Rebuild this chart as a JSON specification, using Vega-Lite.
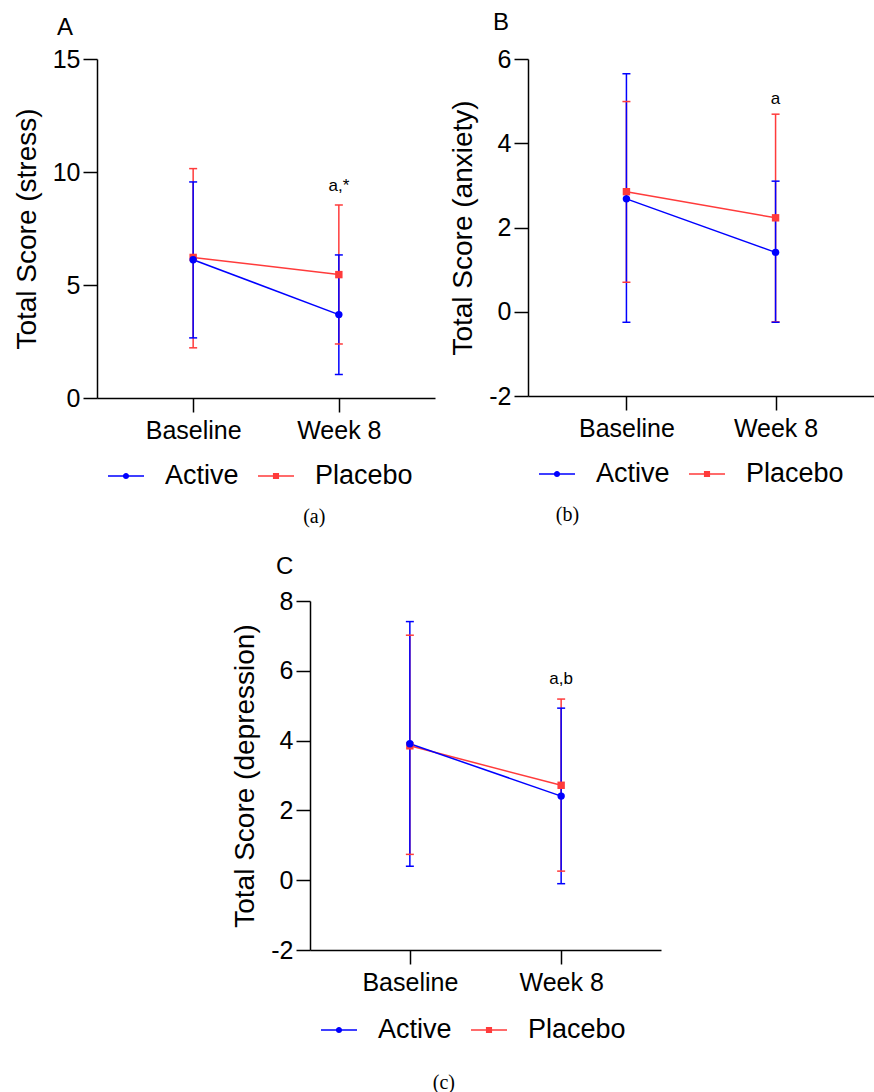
{
  "$schema": "https://vega.github.io/schema/vega-lite/v6.json",
  "padding": {"left": 13, "top": 11, "right": 0, "bottom": 0},
  "spacing": 28,
  "center": true,
  "datasets": {
    "stress": [
      {"group": "Placebo", "time": "Baseline", "mean": 6.22, "lo": 2.22, "hi": 10.15},
      {"group": "Placebo", "time": "Week 8", "mean": 5.46, "lo": 2.39, "hi": 8.54},
      {"group": "Active", "time": "Baseline", "mean": 6.12, "lo": 2.66, "hi": 9.56},
      {"group": "Active", "time": "Week 8", "mean": 3.69, "lo": 1.04, "hi": 6.33}
    ],
    "anxiety": [
      {"group": "Placebo", "time": "Baseline", "mean": 2.85, "lo": 0.70, "hi": 4.99},
      {"group": "Placebo", "time": "Week 8", "mean": 2.23, "lo": -0.24, "hi": 4.69},
      {"group": "Active", "time": "Baseline", "mean": 2.68, "lo": -0.25, "hi": 5.65},
      {"group": "Active", "time": "Week 8", "mean": 1.41, "lo": -0.25, "hi": 3.10}
    ],
    "depression": [
      {"group": "Placebo", "time": "Baseline", "mean": 3.85, "lo": 0.74, "hi": 7.02},
      {"group": "Placebo", "time": "Week 8", "mean": 2.72, "lo": 0.26, "hi": 5.19},
      {"group": "Active", "time": "Baseline", "mean": 3.91, "lo": 0.40, "hi": 7.41},
      {"group": "Active", "time": "Week 8", "mean": 2.41, "lo": -0.10, "hi": 4.93}
    ],
    "stress_ann": [{"time": "Week 8", "y": 9.36, "label": "a,*"}],
    "anxiety_ann": [{"time": "Week 8", "y": 5.06, "label": "a"}],
    "depression_ann": [{"time": "Week 8", "y": 5.76, "label": "a,b"}]
  },
  "vconcat": [
    {
      "spacing": 14,
      "resolve": {"scale": {"x": "independent", "y": "independent", "color": "independent", "stroke": "independent", "shape": "independent", "fill": "independent"}, "legend": {"color": "independent", "shape": "independent"}},
      "hconcat": [
        {
          "title": {"text": "(a)", "orient": "bottom", "anchor": "start", "dx": 290, "offset": 7, "font": "Liberation Serif", "fontSize": 20, "fontWeight": "normal", "color": "black"},
          "resolve": {"scale": {"color": "independent", "stroke": "independent", "shape": "independent", "fill": "independent"}, "legend": {"color": "independent", "shape": "independent"}},
          "vconcat": [
            {
              "width": 338, "height": 339,
              "title": {"text": "A", "anchor": "start", "frame": "group", "dx": -40, "offset": 7, "fontSize": 24},
              "data": {"name": "stress"},
              "encoding": {
                "x": {"field": "time", "type": "nominal", "scale": {"type": "point", "padding": 0.66}, "axis": {"title": null}},
                "y": {"type": "quantitative", "scale": {"domain": [0, 15]}, "axis": {"values": [0, 5, 10, 15], "title": "Total Score (stress)"}}
              },
              "layer": [
                {"mark": {"type": "point", "filled": true, "opacity": 0},
                 "encoding": {
                   "y": {"field": "mean"},
                   "color": {"field": "group", "type": "nominal", "scale": {"domain": ["Active", "Placebo"], "range": ["#0000ff", "#ff3b3b"]}, "legend": {"title": null, "symbolOpacity": 1}},
                   "shape": {"field": "group", "type": "nominal", "scale": {"domain": ["Active", "Placebo"], "range": ["M-1,-0.04H1V0.04H-1ZM-0.17,0A0.17,0.17 0 1,1 0.17,0A0.17,0.17 0 1,1 -0.17,0Z", "M-1,-0.04H1V0.04H-1ZM-0.17,-0.17H0.17V0.17H-0.17Z"]}, "legend": {"title": null, "symbolOpacity": 1}}
                 }},
                {"mark": {"type": "rule", "strokeWidth": 1.5}, "encoding": {"y": {"field": "lo"}, "y2": {"field": "hi"}, "stroke": {"field": "group", "scale": {"range": ["#0000ff", "#ff3b3b"]}, "legend": null}}},
                {"mark": {"type": "rule", "strokeWidth": 1.5, "xOffset": -4, "x2Offset": 4}, "encoding": {"x2": {"field": "time"}, "y": {"field": "lo"}, "stroke": {"field": "group", "legend": null}}},
                {"mark": {"type": "rule", "strokeWidth": 1.5, "xOffset": -4, "x2Offset": 4}, "encoding": {"x2": {"field": "time"}, "y": {"field": "hi"}, "stroke": {"field": "group", "legend": null}}},
                {"mark": {"type": "line", "strokeWidth": 1.5}, "encoding": {"y": {"field": "mean"}, "stroke": {"field": "group", "legend": null}}},
                {"mark": {"type": "point", "filled": true, "opacity": 1, "size": 55},
                 "encoding": {
                   "y": {"field": "mean"},
                   "shape": {"condition": {"test": "datum.group === 'Active'", "value": "circle"}, "value": "square"},
                   "fill": {"field": "group", "type": "nominal", "scale": {"range": ["#0000ff", "#ff3b3b"]}, "legend": null}
                 }},
                {"data": {"name": "stress_ann"}, "mark": {"type": "text", "fontSize": 17, "baseline": "middle", "color": "black"}, "encoding": {"y": {"field": "y"}, "text": {"field": "label"}}}
              ]
            }
          ]
        },
        {
          "title": {"text": "(b)", "orient": "bottom", "anchor": "start", "dx": 106, "offset": 7, "font": "Liberation Serif", "fontSize": 20, "fontWeight": "normal", "color": "black"},
          "resolve": {"scale": {"color": "independent", "stroke": "independent", "shape": "independent", "fill": "independent"}, "legend": {"color": "independent", "shape": "independent"}},
          "vconcat": [
            {
              "width": 346, "height": 337,
              "title": {"text": "B", "anchor": "start", "frame": "group", "dx": -35, "offset": 12, "fontSize": 24},
              "data": {"name": "anxiety"},
              "encoding": {
                "x": {"field": "time", "type": "nominal", "scale": {"type": "point", "padding": 0.66}, "axis": {"title": null}},
                "y": {"type": "quantitative", "scale": {"domain": [-2, 6]}, "axis": {"values": [-2, 0, 2, 4, 6], "labelExpr": "'' + datum.value", "title": "Total Score (anxiety)"}}
              },
              "layer": [
                {"mark": {"type": "point", "filled": true, "opacity": 0},
                 "encoding": {
                   "y": {"field": "mean"},
                   "color": {"field": "group", "type": "nominal", "scale": {"domain": ["Active", "Placebo"], "range": ["#0000ff", "#ff3b3b"]}, "legend": {"title": null, "symbolOpacity": 1}},
                   "shape": {"field": "group", "type": "nominal", "scale": {"domain": ["Active", "Placebo"], "range": ["M-1,-0.04H1V0.04H-1ZM-0.17,0A0.17,0.17 0 1,1 0.17,0A0.17,0.17 0 1,1 -0.17,0Z", "M-1,-0.04H1V0.04H-1ZM-0.17,-0.17H0.17V0.17H-0.17Z"]}, "legend": {"title": null, "symbolOpacity": 1}}
                 }},
                {"mark": {"type": "rule", "strokeWidth": 1.5}, "encoding": {"y": {"field": "lo"}, "y2": {"field": "hi"}, "stroke": {"field": "group", "scale": {"range": ["#0000ff", "#ff3b3b"]}, "legend": null}}},
                {"mark": {"type": "rule", "strokeWidth": 1.5, "xOffset": -4, "x2Offset": 4}, "encoding": {"x2": {"field": "time"}, "y": {"field": "lo"}, "stroke": {"field": "group", "legend": null}}},
                {"mark": {"type": "rule", "strokeWidth": 1.5, "xOffset": -4, "x2Offset": 4}, "encoding": {"x2": {"field": "time"}, "y": {"field": "hi"}, "stroke": {"field": "group", "legend": null}}},
                {"mark": {"type": "line", "strokeWidth": 1.5}, "encoding": {"y": {"field": "mean"}, "stroke": {"field": "group", "legend": null}}},
                {"mark": {"type": "point", "filled": true, "opacity": 1, "size": 55},
                 "encoding": {
                   "y": {"field": "mean"},
                   "shape": {"condition": {"test": "datum.group === 'Active'", "value": "circle"}, "value": "square"},
                   "fill": {"field": "group", "type": "nominal", "scale": {"range": ["#0000ff", "#ff3b3b"]}, "legend": null}
                 }},
                {"data": {"name": "anxiety_ann"}, "mark": {"type": "text", "fontSize": 17, "baseline": "middle", "color": "black"}, "encoding": {"y": {"field": "y"}, "text": {"field": "label"}}}
              ]
            }
          ]
        }
      ]
    },
    {
      "title": {"text": "(c)", "orient": "bottom", "anchor": "start", "dx": 201, "offset": 19, "font": "Liberation Serif", "fontSize": 20, "fontWeight": "normal", "color": "black"},
      "resolve": {"scale": {"color": "independent", "stroke": "independent", "shape": "independent", "fill": "independent"}, "legend": {"color": "independent", "shape": "independent"}},
      "vconcat": [
        {
          "width": 351, "height": 349,
          "title": {"text": "C", "anchor": "start", "frame": "group", "dx": -34, "offset": 10, "fontSize": 24},
          "data": {"name": "depression"},
          "encoding": {
            "x": {"field": "time", "type": "nominal", "scale": {"type": "point", "padding": 0.66}, "axis": {"title": null}},
            "y": {"type": "quantitative", "scale": {"domain": [-2, 8]}, "axis": {"values": [-2, 0, 2, 4, 6, 8], "labelExpr": "'' + datum.value", "title": "Total Score (depression)"}}
          },
          "layer": [
            {"mark": {"type": "point", "filled": true, "opacity": 0},
             "encoding": {
               "y": {"field": "mean"},
               "color": {"field": "group", "type": "nominal", "scale": {"domain": ["Active", "Placebo"], "range": ["#0000ff", "#ff3b3b"]}, "legend": {"title": null, "symbolOpacity": 1, "offset": 6}},
               "shape": {"field": "group", "type": "nominal", "scale": {"domain": ["Active", "Placebo"], "range": ["M-1,-0.04H1V0.04H-1ZM-0.17,0A0.17,0.17 0 1,1 0.17,0A0.17,0.17 0 1,1 -0.17,0Z", "M-1,-0.04H1V0.04H-1ZM-0.17,-0.17H0.17V0.17H-0.17Z"]}, "legend": {"title": null, "symbolOpacity": 1, "offset": 6}}
             }},
            {"mark": {"type": "rule", "strokeWidth": 1.5}, "encoding": {"y": {"field": "lo"}, "y2": {"field": "hi"}, "stroke": {"field": "group", "scale": {"range": ["#0000ff", "#ff3b3b"]}, "legend": null}}},
            {"mark": {"type": "rule", "strokeWidth": 1.5, "xOffset": -4, "x2Offset": 4}, "encoding": {"x2": {"field": "time"}, "y": {"field": "lo"}, "stroke": {"field": "group", "legend": null}}},
            {"mark": {"type": "rule", "strokeWidth": 1.5, "xOffset": -4, "x2Offset": 4}, "encoding": {"x2": {"field": "time"}, "y": {"field": "hi"}, "stroke": {"field": "group", "legend": null}}},
            {"mark": {"type": "line", "strokeWidth": 1.5}, "encoding": {"y": {"field": "mean"}, "stroke": {"field": "group", "legend": null}}},
            {"mark": {"type": "point", "filled": true, "opacity": 1, "size": 55},
             "encoding": {
               "y": {"field": "mean"},
               "shape": {"condition": {"test": "datum.group === 'Active'", "value": "circle"}, "value": "square"},
               "fill": {"field": "group", "type": "nominal", "scale": {"range": ["#0000ff", "#ff3b3b"]}, "legend": null}
             }},
            {"data": {"name": "depression_ann"}, "mark": {"type": "text", "fontSize": 17, "baseline": "middle", "color": "black"}, "encoding": {"y": {"field": "y"}, "text": {"field": "label"}}}
          ]
        }
      ]
    }
  ],
  "resolve": {"scale": {"x": "independent", "y": "independent", "color": "independent", "stroke": "independent", "shape": "independent", "fill": "independent"}, "legend": {"color": "independent", "shape": "independent"}},
  "config": {
    "view": {"stroke": null},
    "font": "Liberation Sans",
    "axis": {"domainColor": "black", "domainWidth": 1.5, "tickColor": "black", "tickWidth": 1.5, "tickSize": 14, "labelColor": "black", "labelFont": "Liberation Sans", "labelFontSize": 25, "labelPadding": 3, "grid": false, "titleFont": "Liberation Sans", "titleFontSize": 28, "titleFontWeight": "normal", "titleColor": "black", "titlePadding": 11},
    "axisX": {"labelAngle": 0, "labelPadding": 6},
    "legend": {"orient": "bottom", "direction": "horizontal", "labelFont": "Liberation Sans", "labelFontSize": 27, "labelColor": "black", "symbolSize": 1296, "symbolStrokeWidth": 0, "labelOffset": 21, "columnPadding": 19, "offset": 4, "padding": 11},
    "title": {"font": "Liberation Sans", "fontSize": 24, "fontWeight": "normal", "color": "black"}
  }
}
